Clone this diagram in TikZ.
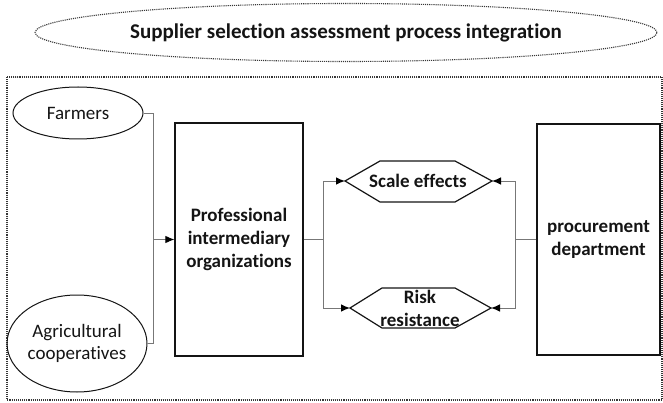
\documentclass[tikz,border=0pt]{standalone}
\usepackage{fontspec}
\setmainfont{Carlito}[Ligatures=NoCommon]
\usetikzlibrary{arrows.meta,shapes.geometric}

\definecolor{ink}{HTML}{141414}
\definecolor{wire}{HTML}{777777}

\begin{document}
\begin{tikzpicture}[x=1pt,y=-1pt,
  every node/.style={text=ink, inner sep=0pt},
  frame/.style={draw=ink!85, line width=1.1pt, densely dotted},
  source/.style={draw=ink, line width=1pt, ellipse, align=center,
    font=\fontsize{19}{22}\selectfont},
  block/.style={draw=ink, line width=1.2pt, align=center,
    font=\bfseries\fontsize{19}{23}\selectfont},
  hexlabel/.style={align=center, font=\bfseries\fontsize{19}{23}\selectfont},
  hexline/.style={draw=ink, line width=1.2pt, line join=miter},
  wireline/.style={draw=wire, line width=0.9pt},
  flow/.style={wireline, -{Latex[length=9pt,width=7.5pt,color=black]}},
]
\useasboundingbox (0,0) rectangle (663,403);

% heading and dotted frame
\node[frame, ellipse, minimum width=622pt, minimum height=58pt,
      font=\bfseries\fontsize{21}{25}\selectfont] (title) at (346,32.5)
      {Supplier selection assessment process integration};
\draw[frame] (7,77) rectangle (662,400);

% suppliers
\node[source, minimum width=130pt, minimum height=52pt] (farmers) at (78,113) {Farmers};
\node[source, minimum width=140pt, minimum height=97pt] (coop) at (77,343.5)
      {Agricultural\\cooperatives};

% main blocks
\node[block, minimum width=128pt, minimum height=233pt] (inter) at (239,239.5)
      {Professional\\intermediary\\organizations};
\node[block, minimum width=123pt, minimum height=231pt] (proc) at (598.5,239.5)
      {procurement\\department};

% hexagonal effect boxes
\coordinate (scaleW) at (345,181);
\coordinate (scaleE) at (492,181);
\draw[hexline] (scaleW) -- (380,161) -- (455,161) -- (scaleE) -- (455,202) -- (380,202) -- cycle;
\node[hexlabel] (scale) at (418,181) {Scale effects};

\coordinate (riskW) at (350,308);
\coordinate (riskE) at (491,308);
\draw[hexline] (riskW) -- (382,288) -- (455,288) -- (riskE) -- (455,328) -- (382,328) -- cycle;
\node[hexlabel] (risk) at (420,308.5) {Risk\\resistance};

% junction points of the connectors
\coordinate (jin) at (153,239.5);
\coordinate (jmid) at (323,239.5);
\coordinate (jout) at (515,239.5);

% connectors
\draw[wireline] (farmers.east) -| (jin);
\draw[wireline] (coop.east) -| (jin);
\draw[flow] (jin) -- (inter.west);

\draw[wireline] (inter.east) -- (jmid);
\draw[flow] (jmid) |- (scaleW);
\draw[flow] (jmid) |- (riskW);

\draw[wireline] (proc.west) -- (jout);
\draw[flow] (jout) |- (scaleE);
\draw[flow] (jout) |- (riskE);
\end{tikzpicture}
\end{document}
